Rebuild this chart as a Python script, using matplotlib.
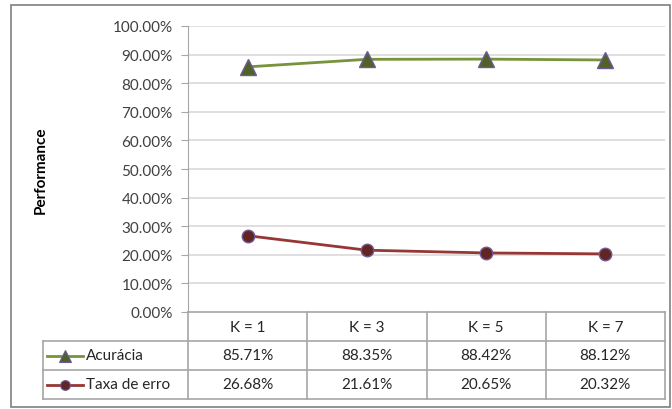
import matplotlib.pyplot as plt
from matplotlib.lines import Line2D
from matplotlib.patches import Rectangle

plt.rcParams['font.family'] = ['Lato', 'DejaVu Sans']

k_labels = ["K = 1", "K = 3", "K = 5", "K = 7"]
acuracia = [85.71, 88.35, 88.42, 88.12]
taxa_erro = [26.68, 21.61, 20.65, 20.32]
series_names = ["Acurácia", "Taxa de erro"]
yticks = [0, 10, 20, 30, 40, 50, 60, 70, 80, 90, 100]

W, H = 672, 410
grid_col = "#d9d9d9"
edge_col = "#a6a6a6"
green_line, green_mk = "#77933c", "#4f6228"
red_line, red_mk = "#953735", "#632523"
mk_edge = "#6f5a96"

fig = plt.figure(figsize=(W / 100, H / 100), dpi=100)

def fx(px):
    return px / W

def fy(py):
    return 1 - py / H

# outer chart frame
fig.patches.append(Rectangle((fx(11), fy(408)), fx(670) - fx(11), fy(6) - fy(408),
                             transform=fig.transFigure, fill=False,
                             edgecolor="#7f7f7f", lw=1.2))

left, right, top, bottom = 188, 665, 27, 313
ax = fig.add_axes([fx(left), fy(bottom), fx(right) - fx(left), fy(top) - fy(bottom)])
x = list(range(len(k_labels)))
ax.set_xlim(-0.5, len(k_labels) - 0.5)
ax.set_ylim(0, 100)
ax.set_yticks(yticks)
ax.set_yticklabels([f"{v:.2f}%" for v in yticks], fontsize=11, color="#404040")
ax.set_xticks([])
for v in yticks[1:]:
    ax.axhline(v, color=grid_col, lw=1.2, zorder=0)
for s in ["top", "right", "bottom"]:
    ax.spines[s].set_visible(False)
ax.spines["left"].set_color(edge_col)
ax.tick_params(axis="y", length=5, color=edge_col, pad=6)
ax.set_ylabel("Performance", fontsize=11, fontweight="bold", labelpad=47)

ax.plot(x, acuracia, color=green_line, lw=2, marker="^", ms=11,
        mfc=green_mk, mec=mk_edge, mew=1, zorder=3)
ax.plot(x, taxa_erro, color=red_line, lw=2, marker="o", ms=9,
        mfc=red_mk, mec=mk_edge, mew=1, zorder=3)

# data table below the plot
row_y = [313, 342, 371, 400]
col_w = (right - left) / len(k_labels)
col_x = [left + i * col_w for i in range(len(k_labels) + 1)]
tbl_left = 43

def hline(y, x0, x1):
    fig.add_artist(Line2D([fx(x0), fx(x1)], [fy(y), fy(y)], color=edge_col, lw=1.2))

def vline(x0, y0, y1):
    fig.add_artist(Line2D([fx(x0), fx(x0)], [fy(y0), fy(y1)], color=edge_col, lw=1.2))

hline(row_y[0], left, right)
for y in row_y[1:]:
    hline(y, tbl_left, right)
for xc in col_x:
    vline(xc, row_y[0], row_y[3])
vline(tbl_left, row_y[1], row_y[3])

for i, lab in enumerate(k_labels):
    cx = (col_x[i] + col_x[i + 1]) / 2
    fig.text(fx(cx), fy((row_y[0] + row_y[1]) / 2), lab, ha="center", va="center",
             fontsize=11, color="#262626")
    fig.text(fx(cx), fy((row_y[1] + row_y[2]) / 2), f"{acuracia[i]:.2f}%",
             ha="center", va="center", fontsize=11, color="#262626")
    fig.text(fx(cx), fy((row_y[2] + row_y[3]) / 2), f"{taxa_erro[i]:.2f}%",
             ha="center", va="center", fontsize=11, color="#262626")

# legend keys inside the first column
keys = [(green_line, green_mk, "^", 8), (red_line, red_mk, "o", 7)]
for r, (lc, mc, mk, ms) in enumerate(keys):
    yc = fy((row_y[r + 1] + row_y[r + 2]) / 2)
    fig.add_artist(Line2D([fx(47), fx(83)], [yc, yc], color=lc, lw=2))
    fig.add_artist(Line2D([fx(65)], [yc], marker=mk, ms=ms, mfc=mc, mec=mk_edge,
                          mew=0.8, linestyle="none"))
    fig.text(fx(86), yc, series_names[r], ha="left", va="center", fontsize=11,
             color="#262626")

fig.savefig("out.png", dpi=100)
